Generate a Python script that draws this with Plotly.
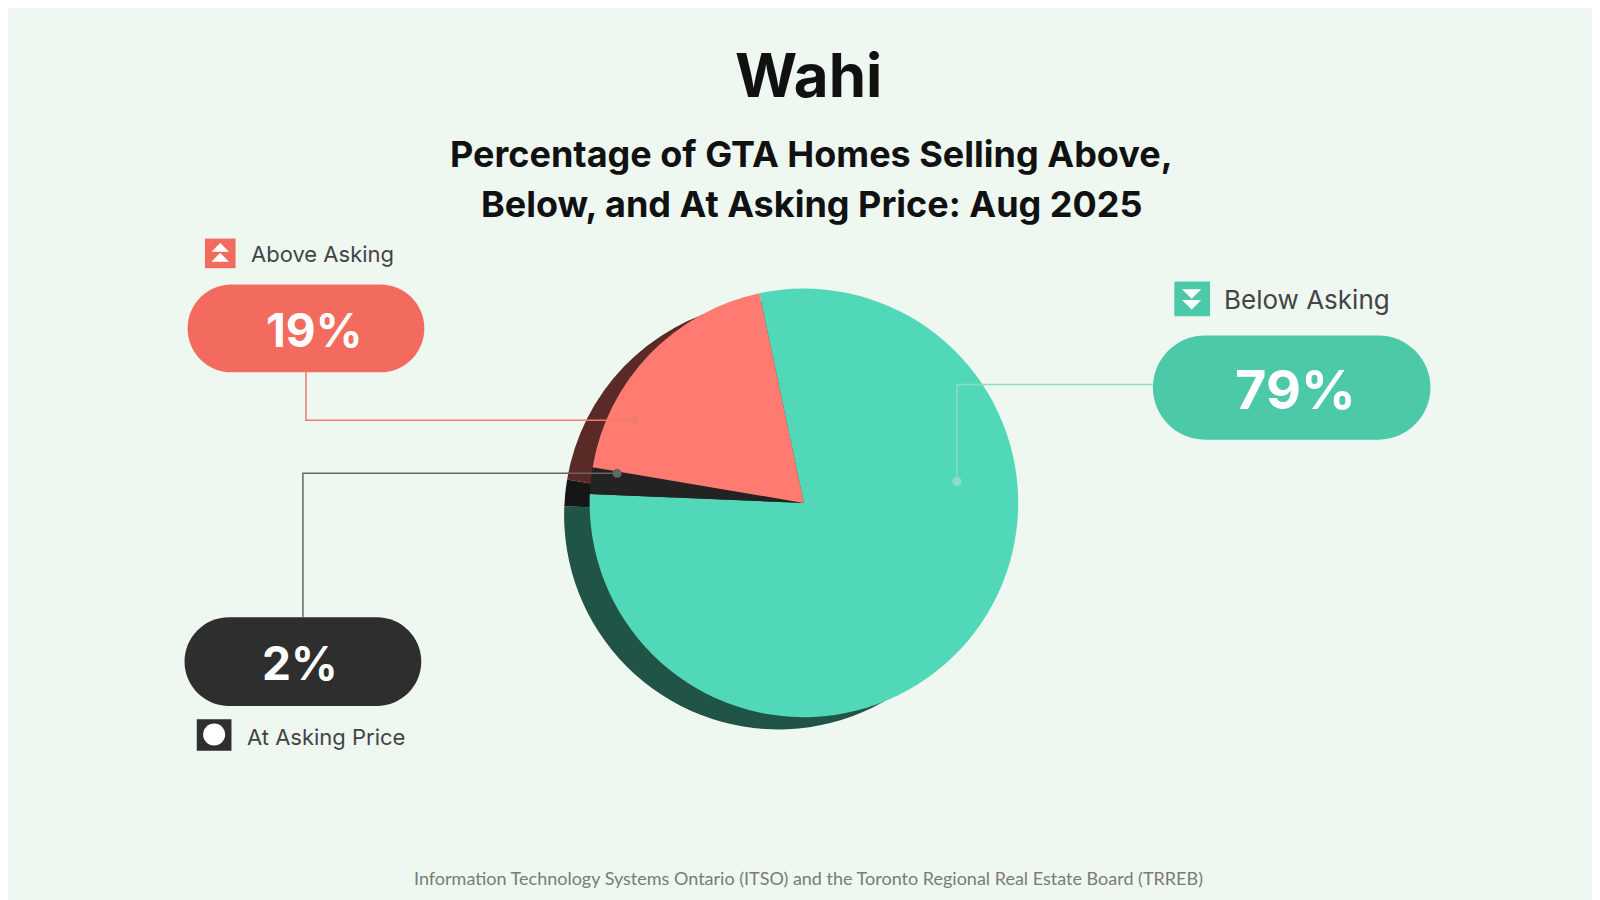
import plotly.graph_objects as go

labels = ["Below Asking", "At Asking Price", "Above Asking"]
values = [79, 2, 19]
colors = ["#50d8b9", "#232323", "#ff7b72"]
shadow = ["#1f5446", "#161616", "#5a2a26"]
W, H = 1600, 900
RW, RH = 1568, 882
s = W / RW

def P(x, y):
    return x * s, y * s

fig = go.Figure()

def dom(cx, cy, r):
    return dict(x=[(cx - r) / RW, (cx + r) / RW], y=[1 - (cy + r) / RH, 1 - (cy - r) / RH])

fig.add_trace(go.Pie(labels=labels, values=values, sort=False, direction="clockwise", rotation=-12,
                     marker=dict(colors=shadow, line=dict(width=0)), textinfo="none", hoverinfo="skip",
                     domain=dom(755, 497, 210), showlegend=False))
fig.add_trace(go.Pie(labels=labels, values=values, sort=False, direction="clockwise", rotation=-12,
                     marker=dict(colors=colors, line=dict(width=0)), textinfo="none",
                     domain=dom(780, 485, 210), showlegend=False))

def pill(x0, y0, x1, y1, color):
    x0, y0 = P(x0, y0); x1, y1 = P(x1, y1)
    r = (y1 - y0) / 2; k = 0.5523 * r
    path = (f"M{x0+r},{y0} L{x1-r},{y0} C{x1-r+k},{y0} {x1},{y0+r-k} {x1},{y0+r} "
            f"C{x1},{y0+r+k} {x1-r+k},{y1} {x1-r},{y1} L{x0+r},{y1} "
            f"C{x0+r-k},{y1} {x0},{y0+r+k} {x0},{y0+r} C{x0},{y0+r-k} {x0+r-k},{y0} {x0+r},{y0} Z")
    fig.add_shape(type="path", path=path, xref="x", yref="y", fillcolor=color, line=dict(width=0))

def line(pts, color):
    pts = [P(*p) for p in pts]
    path = "M" + " L".join(f"{x},{y}" for x, y in pts)
    fig.add_shape(type="path", path=path, xref="x", yref="y", line=dict(color=color, width=1.5))
    x, y = pts[-1]
    fig.add_shape(type="circle", xref="x", yref="y", x0=x-4.5, x1=x+4.5, y0=y-4.5, y1=y+4.5,
                  fillcolor=color, line=dict(width=0))

def txt(x, y, t, size, color, bold=False, anchor="center", font="Inter"):
    x, y = P(x, y)
    fig.add_annotation(x=x, y=y, xref="x", yref="y", text=f"<b>{t}</b>" if bold else t, showarrow=False,
                       xanchor=anchor, yanchor="middle", font=dict(size=size, color=color, family=font))

def square(x0, y0, x1, y1, color):
    x0, y0 = P(x0, y0); x1, y1 = P(x1, y1)
    fig.add_shape(type="rect", xref="x", yref="y", x0=x0, x1=x1, y0=y0, y1=y1, fillcolor=color, line=dict(width=0))

def arrows(cx, cy, w, up):
    cx, cy = P(cx, cy)
    d = -1 if up else 1
    for off in (-0.35 * w, 0.1 * w):
        tip = cy + d * off + d * 0.35 * w
        base = cy + d * off - d * 0.05 * w
        fig.add_shape(type="path", xref="x", yref="y",
                      path=f"M{cx-0.4*w},{base} L{cx+0.4*w},{base} L{cx},{tip} Z" if not up else
                      f"M{cx-0.4*w},{base} L{cx+0.4*w},{base} L{cx},{tip} Z",
                      fillcolor="white", line=dict(width=0))

line([(292, 357), (292, 404), (614, 404)], "#f07b6f")
line([(289, 597), (289, 456), (597, 456)], "#666666")
line([(1122, 369), (930, 369), (930, 464)], "#8fdcc6")

pill(176, 271, 408, 357, "#f26b5e")
pill(1122, 321, 1394, 423, "#4cc9a8")
pill(173, 597, 405, 684, "#2e2e2e")
txt(300, 316, f"{values[2]}%", 46, "white", True)
txt(1262, 374, f"{values[0]}%", 54, "white", True)
txt(286, 642, f"{values[1]}%", 46, "white", True)

square(193, 226, 223, 255, "#f26b5e")
arrows(208, 240, 22, True)
square(1143, 268, 1178, 302, "#4cc9a8")
arrows(1160, 285, 24, False)
square(185, 697, 219, 728, "#2e2e2e")
x, y = P(202, 712)
fig.add_shape(type="circle", xref="x", yref="y", x0=x-11, x1=x+11, y0=y-11, y1=y+11, fillcolor="white", line=dict(width=0))
txt(236, 241, "Above Asking", 22, "#444444", anchor="left")
txt(1190, 286, "Below Asking", 26, "#444444", anchor="left")
txt(232, 714, "At Asking Price", 22, "#444444", anchor="left")

txt(784, 66, "Wahi", 60, "#111111", True)
txt(787, 143, "Percentage of GTA Homes Selling Above,", 36, "#111111", True)
txt(787, 192, "Below, and At Asking Price: Aug 2025", 36, "#111111", True)
txt(784, 853, "Information Technology Systems Ontario (ITSO) and the Toronto Regional Real Estate Board (TRREB)",
    18, "#7a7a7a", font="Lato")

fig.update_layout(width=W, height=H, margin=dict(l=0, r=0, t=0, b=0),
                  paper_bgcolor="#eef8f1", plot_bgcolor="rgba(0,0,0,0)",
                  xaxis=dict(range=[0, W], visible=False, fixedrange=True),
                  yaxis=dict(range=[H, 0], visible=False, fixedrange=True))
fig.write_html("out.html")
